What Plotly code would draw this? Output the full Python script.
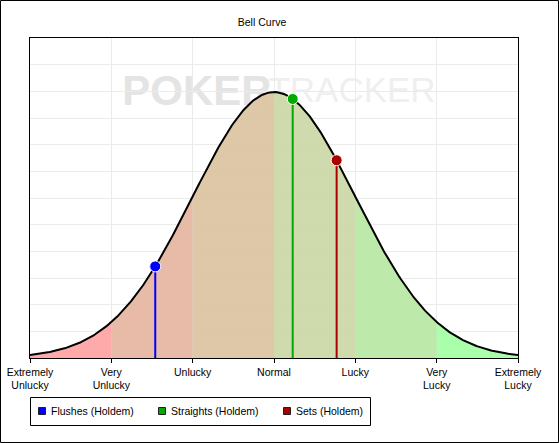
import numpy as np
import plotly.graph_objects as go

# ---- data ----
tick_positions = [-3, -2, -1, 0, 1, 2, 3]
tick_labels = ["Extremely<br>Unlucky", "Very<br>Unlucky", "Unlucky", "Normal",
               "Lucky", "Very<br>Lucky", "Extremely<br>Lucky"]
band_starts = [-3, -2, -1, 0, 1, 2]
band_colors = ["rgba(255,161,161,0.9)", "rgba(229,179,158,0.9)", "rgba(219,194,158,0.9)",
               "rgba(202,214,164,0.9)", "rgba(182,232,161,0.9)", "rgba(161,255,161,0.9)"]
series_names = ["Flushes (Holdem)", "Straights (Holdem)", "Sets (Holdem)"]
series_values = [-1.46, 0.23, 0.77]
series_colors = ["#0000FF", "#00AA00", "#AA0000"]


def bell(x):
    x = np.asarray(x, dtype=float)
    return np.exp(-x ** 2 / 2) / np.sqrt(2 * np.pi)


FONT = "Liberation Sans"
FS = 10.5
# plot-area geometry in pixels (for layout decorations)
PL, PT, PW, PH = 30, 38, 488, 320


def px_x(px):
    return (px - PL) / PW


def px_y(py):
    return (PT + PH - py) / PH


fig = go.Figure()

# coloured bands under the curve
for start, col in zip(band_starts, band_colors):
    xs = np.linspace(start, start + 1, 60)
    fig.add_trace(go.Scatter(x=xs, y=bell(xs), mode="lines", line=dict(width=0),
                             fill="tozeroy", fillcolor=col, showlegend=False,
                             hoverinfo="skip"))

# the bell curve
xc = np.linspace(-3, 3, 400)
fig.add_trace(go.Scatter(x=xc, y=bell(xc), mode="lines",
                         line=dict(color="black", width=2), showlegend=False))

# series drop lines with markers
for name, v, col in zip(series_names, series_values, series_colors):
    yv = float(bell(v))
    fig.add_trace(go.Scatter(x=[v, v], y=[0, yv], mode="lines+markers",
                             line=dict(color=col, width=2),
                             marker=dict(color=col, size=[0, 11], opacity=1),
                             showlegend=False, name=name))

# watermark (behind traces)
fig.add_shape(type="rect", xref="paper", yref="paper", x0=px_x(122), x1=px_x(272),
              y0=px_y(106), y1=px_y(66), line=dict(width=0), fillcolor="rgba(0,0,0,0)",
              layer="between",
              label=dict(text="<b>POKER</b>", textposition="middle center",
                         font=dict(family=FONT, size=42, color="#E4E4E4")))
fig.add_shape(type="rect", xref="paper", yref="paper", x0=px_x(273), x1=px_x(431),
              y0=px_y(106), y1=px_y(66), line=dict(width=0), fillcolor="rgba(0,0,0,0)",
              layer="between",
              label=dict(text="TRACKER", textposition="middle center",
                         font=dict(family=FONT, size=35, color="#EFEFEF")))

# custom legend box
fig.add_shape(type="rect", xref="paper", yref="paper",
              x0=px_x(30.5), x1=px_x(370.5), y0=px_y(425.5), y1=px_y(397.5),
              line=dict(color="black", width=1), fillcolor="white", layer="above")
legend_x = [38.5, 158.5, 283.5]
for name, col, lx in zip(series_names, series_colors, legend_x):
    fig.add_shape(type="rect", xref="paper", yref="paper",
                  x0=px_x(lx), x1=px_x(lx + 7), y0=px_y(414.5), y1=px_y(407.5),
                  line=dict(color="#202020", width=1), fillcolor=col, layer="above")
    fig.add_annotation(text=name, xref="paper", yref="paper", x=px_x(lx + 10.5),
                       y=px_y(411), xanchor="left", yanchor="middle", showarrow=False,
                       font=dict(family=FONT, size=FS, color="black"))

# outer border of the image
fig.add_shape(type="rect", xref="paper", yref="paper",
              x0=px_x(0.5), x1=px_x(558.5), y0=px_y(442.5), y1=px_y(0.5),
              line=dict(color="black", width=1), fillcolor="rgba(0,0,0,0)",
              layer="above")

fig.update_layout(
    width=559, height=443,
    margin=dict(l=PL, r=559 - PL - PW, t=PT, b=443 - PT - PH, autoexpand=False),
    paper_bgcolor="white", plot_bgcolor="white",
    font=dict(family=FONT, size=FS, color="black"),
    title=dict(text="Bell Curve", x=262 / 559, xref="container", xanchor="center",
               y=1 - 22 / 443, yref="container", yanchor="middle",
               font=dict(family=FONT, size=FS, color="black")),
    showlegend=False,
    xaxis=dict(range=[-3, 3], tickvals=tick_positions, ticktext=tick_labels,
               showgrid=True, gridcolor="#EBEBEB", gridwidth=1, zeroline=False,
               showline=True, linecolor="black", linewidth=1, mirror=True,
               ticks="outside", ticklen=4, tickcolor="black", automargin=False,
               tickfont=dict(family=FONT, size=FS, color="black"),
               fixedrange=True),
    yaxis=dict(range=[0, 0.48], dtick=0.04, showticklabels=False, ticks="",
               showgrid=True, gridcolor="#EBEBEB", gridwidth=1, zeroline=False,
               showline=True, linecolor="black", linewidth=1, mirror=True,
               automargin=False, fixedrange=True),
)

fig.write_html("out.html", config={"displayModeBar": False},
               post_script="document.body.style.margin='0';")
